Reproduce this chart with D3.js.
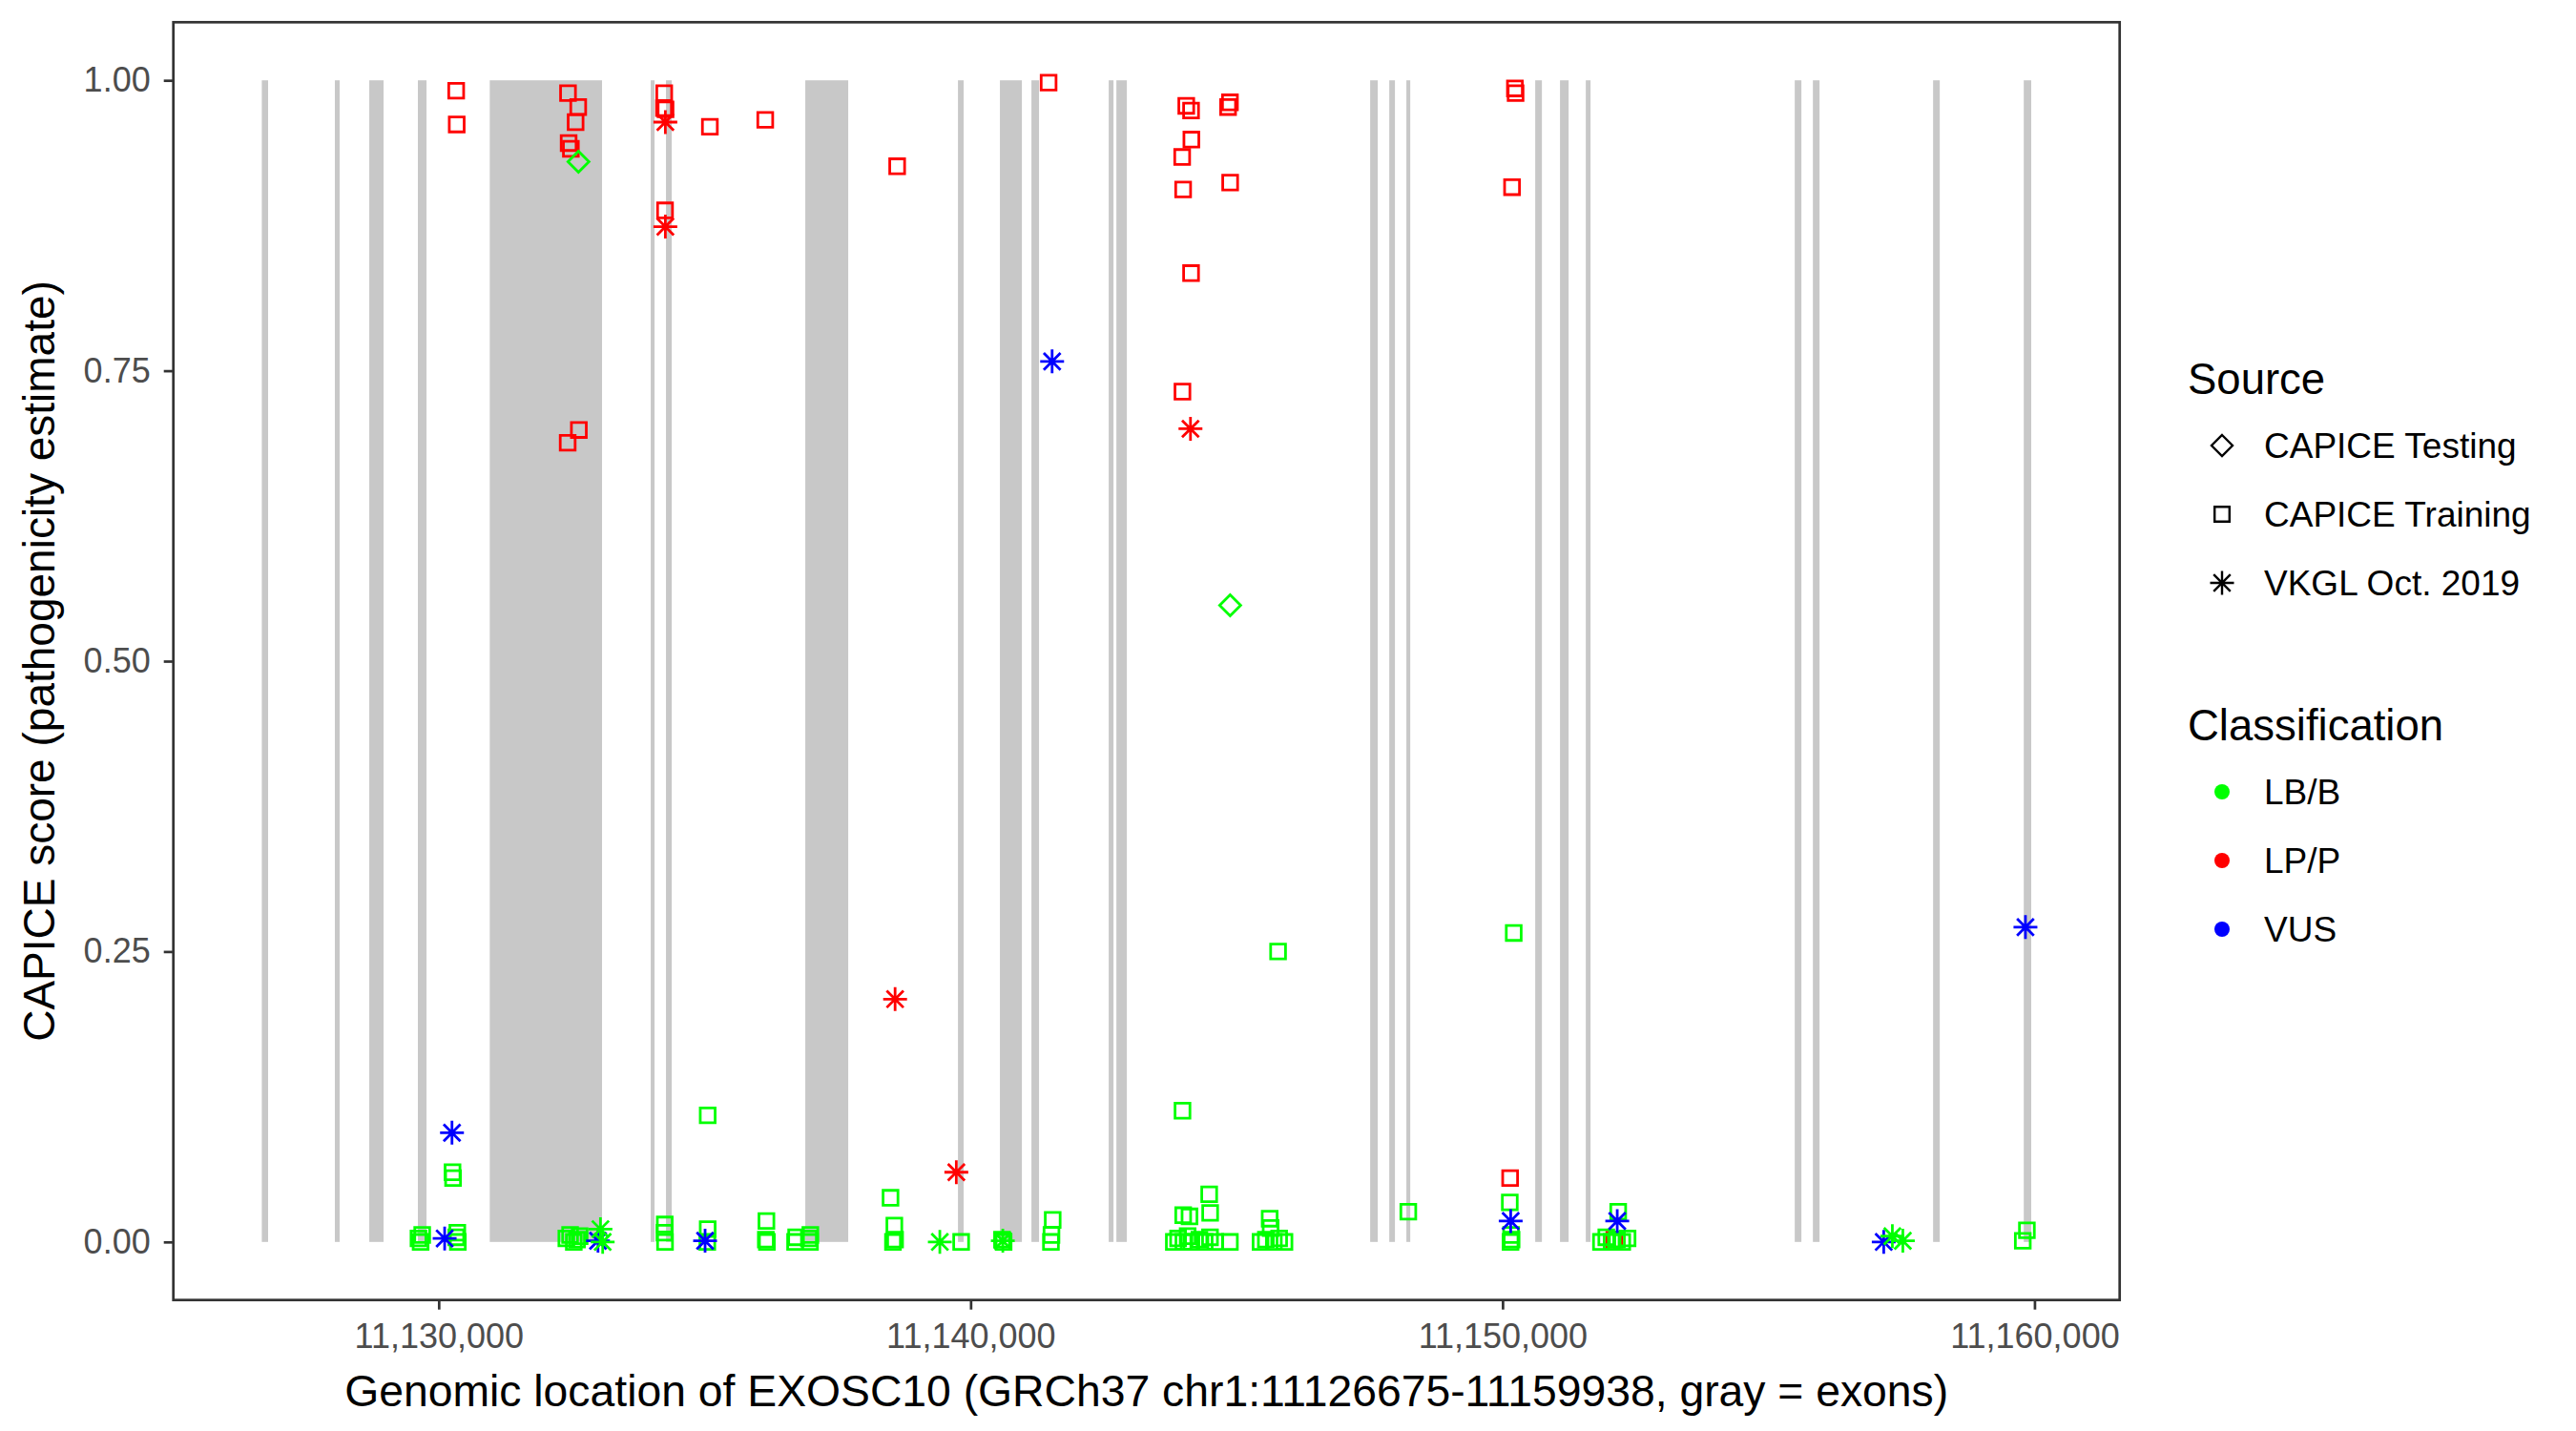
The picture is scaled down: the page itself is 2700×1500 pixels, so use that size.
<!DOCTYPE html>
<html>
<head>
<meta charset="utf-8">
<script src="https://cdn.jsdelivr.net/npm/d3@7"></script>
<style>
  body { margin: 0; background: #fff; }
  text { font-family: "Liberation Sans", Arial, sans-serif; }
</style>
</head>
<body>
<div id="chart"></div>
<script>
// gene + exons (GRCh37 chr1)
var geneStart = 11126675, geneEnd = 11159938;
var exonStart = [11126675, 11128048, 11128695, 11129609, 11130960, 11133986, 11134273, 11136892,
                 11139762, 11140551, 11141143, 11142596, 11142740, 11147511, 11147870, 11148192,
                 11150614, 11151080, 11151565, 11155493, 11155834, 11158094, 11159798];
var exonEnd   = [11126793, 11128138, 11128964, 11129771, 11133071, 11134058, 11134381, 11137699,
                 11139869, 11140964, 11141286, 11142686, 11142937, 11147654, 11147977, 11148265,
                 11150740, 11151242, 11151654, 11155618, 11155959, 11158219, 11159938];

// variants: position, score, source, classification
var redSqPos   = [11130329, 11130339, 11132431, 11132623, 11132574, 11132443, 11132485, 11132635, 11132425,
                  11134240, 11134235, 11134265, 11134255, 11135098, 11136139, 11138619, 11141466,
                  11144054, 11144144, 11144840, 11144875, 11144150, 11143977, 11143995, 11144879,
                  11144144, 11143982, 11150232, 11150245, 11150178, 11150142, 11152100];
var redSqScore = [0.991, 0.962, 0.989, 0.977, 0.964, 0.946, 0.941, 0.699, 0.688,
                  0.989, 0.976, 0.975, 0.888, 0.960, 0.966, 0.926, 0.998,
                  0.978, 0.974, 0.977, 0.981, 0.949, 0.934, 0.906, 0.912,
                  0.834, 0.732, 0.993, 0.989, 0.908, 0.055, 0.002];

var redStarPos   = [11134261, 11134261, 11144133, 11138580, 11139731];
var redStarScore = [0.964, 0.874, 0.700, 0.209, 0.060];

var greenSqPos = [11145780, 11150210, 11130260, 11130270, 11129620, 11129660, 11129690, 11130350, 11130360, 11130330,
                  11132400, 11132470, 11132540, 11132600, 11132650, 11134250, 11134245, 11134255,
                  11135057, 11135057, 11135050, 11136161, 11136150, 11136170,
                  11136700, 11136720, 11136987, 11136980, 11136960, 11138494, 11138566, 11138540, 11138580,
                  11139822, 11140590, 11140620, 11141543, 11141520, 11141510,
                  11143983, 11144485, 11144503, 11143996, 11144115,
                  11143820, 11143900, 11144000, 11144080, 11144150, 11144300, 11144400, 11144500, 11144600, 11144874,
                  11145622, 11145640, 11145450, 11145550, 11145700, 11145800, 11145900,
                  11148228, 11150136, 11150160, 11150150, 11150170,
                  11152174, 11151850, 11151950, 11152050, 11152150, 11152250, 11152350,
                  11159857, 11159780];
var greenSqScore = [0.250, 0.266, 0.060, 0.055, 0.003, 0.000, 0.006, 0.008, 0.000, 0.004,
                    0.003, 0.006, 0.000, 0.002, 0.005, 0.015, 0.008, 0.000,
                    0.109, 0.011, 0.000, 0.018, 0.002, 0.000,
                    0.000, 0.004, 0.006, 0.000, 0.003, 0.038, 0.014, 0.000, 0.002,
                    0.000, 0.002, 0.000, 0.019, 0.006, 0.000,
                    0.113, 0.041, 0.025, 0.023, 0.022,
                    0.000, 0.003, 0.000, 0.005, 0.000, 0.002, 0.000, 0.004, 0.000, 0.000,
                    0.020, 0.012, 0.000, 0.002, 0.000, 0.003, 0.000,
                    0.026, 0.034, 0.006, 0.000, 0.002,
                    0.026, 0.000, 0.004, 0.000, 0.002, 0.000, 0.003,
                    0.010, 0.001];

var greenDiaPos   = [11132628, 11144879];
var greenDiaScore = [0.930, 0.548];

var greenStarPos   = [11133041, 11133083, 11139421, 11140605, 11157328, 11157525];
var greenStarScore = [0.011, 0.000, 0.000, 0.001, 0.005, 0.001];

var blueStarPos   = [11141532, 11159830, 11130250, 11130112, 11132995, 11135008, 11150153, 11152156, 11157166];
var blueStarScore = [0.758, 0.271, 0.094, 0.003, 0.001, 0.001, 0.018, 0.018, 0.000];

var sourceLabels = ["CAPICE Testing", "CAPICE Training", "VKGL Oct. 2019"];
var classLabels = ["LB/B", "LP/P", "VUS"];
var classColors = ["#00ff00", "#ff0000", "#0000ff"];
var yTicks = [0, 0.25, 0.5, 0.75, 1];
var xTicks = [11130000, 11140000, 11150000, 11160000];

function build(pos, score, source, cls) {
  return pos.map((p, i) => ({pos: p, score: score[i], source: source, cls: cls}));
}
var variants = [].concat(
  build(redSqPos, redSqScore, "CAPICE Training", "LP/P"),
  build(redStarPos, redStarScore, "VKGL Oct. 2019", "LP/P"),
  build(greenSqPos, greenSqScore, "CAPICE Training", "LB/B"),
  build(greenDiaPos, greenDiaScore, "CAPICE Testing", "LB/B"),
  build(blueStarPos, blueStarScore, "VKGL Oct. 2019", "VUS"),
  build(greenStarPos, greenStarScore, "VKGL Oct. 2019", "LB/B")
);

var W = 2700, H = 1500;
var margin = {top: 23.3, left: 181.7, right: W - 2221.7, bottom: H - 1362.7};
var width = W - margin.left - margin.right,
    height = H - margin.top - margin.bottom;

var pad = (geneEnd - geneStart) * 0.05;
var x = d3.scaleLinear().domain([geneStart - pad, geneEnd + pad]).range([0, width]);
var y = d3.scaleLinear().domain([-0.05, 1.05]).range([height, 0]);
var color = d3.scaleOrdinal().domain(classLabels).range(classColors);

var svg = d3.select("#chart").append("svg")
    .attr("width", W).attr("height", H);
var g = svg.append("g")
    .attr("transform", "translate(" + margin.left + "," + margin.top + ")");

// exons
g.selectAll("rect.exon")
  .data(exonStart.map((s, i) => ({s: s, e: exonEnd[i]})))
  .enter().append("rect")
    .attr("class", "exon")
    .attr("x", d => x(d.s))
    .attr("width", d => Math.max(x(d.e) - x(d.s), 1))
    .attr("y", y(1))
    .attr("height", y(0) - y(1))
    .attr("fill", "#c8c8c8");

// point shapes
function shapePath(source) {
  if (source == "CAPICE Training") {
    var s = 7.8;
    return "M" + (-s) + "," + (-s) + "H" + s + "V" + s + "H" + (-s) + "Z";
  }
  if (source == "CAPICE Testing") {
    var r = 11;
    return "M0," + (-r) + "L" + r + ",0L0," + r + "L" + (-r) + ",0Z";
  }
  var a = 12.5, d = 8.8;
  return "M0," + (-a) + "V" + a + "M" + (-a) + ",0H" + a +
         "M" + (-d) + "," + (-d) + "L" + d + "," + d + "M" + (-d) + "," + d + "L" + d + "," + (-d);
}

g.selectAll("path.pt")
  .data(variants)
  .enter().append("path")
    .attr("class", "pt")
    .attr("transform", d => "translate(" + x(d.pos) + "," + y(d.score) + ")")
    .attr("d", d => shapePath(d.source))
    .attr("fill", "none")
    .attr("stroke", d => color(d.cls))
    .attr("stroke-width", 2.8);

// axes
var xAxis = g.append("g")
  .attr("transform", "translate(0," + height + ")")
  .call(d3.axisBottom(x).tickValues(xTicks).tickSize(10).tickPadding(15).tickFormat(d3.format(",")));
var yAxis = g.append("g")
  .call(d3.axisLeft(y).tickValues(yTicks).tickSize(10).tickPadding(14).tickFormat(d3.format(".2f")));
[xAxis, yAxis].forEach(ax => {
  ax.select(".domain").remove();
  ax.selectAll(".tick line").attr("stroke", "#333333").attr("stroke-width", 2.7);
  ax.selectAll(".tick text").attr("fill", "#4d4d4d").style("font-size", "36px")
    .style("font-family", '"Liberation Sans", Arial, sans-serif');
});

// panel border
g.append("rect")
  .attr("width", width).attr("height", height)
  .attr("fill", "none").attr("stroke", "#333333").attr("stroke-width", 2.7);

// axis titles
svg.append("text")
  .attr("x", margin.left + width / 2).attr("y", 1474)
  .attr("text-anchor", "middle").style("font-size", "46.3px").attr("fill", "#000")
  .text("Genomic location of EXOSC10 (GRCh37 chr1:11126675-11159938, gray = exons)");
svg.append("text")
  .attr("transform", "translate(57," + (margin.top + height / 2) + ") rotate(-90)")
  .attr("text-anchor", "middle").style("font-size", "46px").attr("fill", "#000")
  .text("CAPICE score (pathogenicity estimate)");

// legends
var lx = 2293, keyX = 2329, labX = 2373, rowH = 72;
svg.append("text").attr("x", lx).attr("y", 397).attr("dominant-baseline", "central")
  .style("font-size", "45.5px").text("Source");
var srcLeg = svg.selectAll("g.src").data(sourceLabels).enter().append("g")
  .attr("transform", (d, i) => "translate(0," + (467 + i * rowH) + ")");
srcLeg.append("path")
  .attr("transform", "translate(" + keyX + ",0)")
  .attr("d", d => shapePath(d))
  .attr("fill", "none").attr("stroke", "#000").attr("stroke-width", 2.4);
srcLeg.append("text").attr("x", labX).attr("dominant-baseline", "central")
  .style("font-size", "37px").text(d => d);

svg.append("text").attr("x", lx).attr("y", 760).attr("dominant-baseline", "central")
  .style("font-size", "45.5px").text("Classification");
var clsLeg = svg.selectAll("g.cls").data(classLabels).enter().append("g")
  .attr("transform", (d, i) => "translate(0," + (830 + i * rowH) + ")");
clsLeg.append("circle").attr("cx", keyX).attr("r", 8).attr("fill", d => color(d));
clsLeg.append("text").attr("x", labX).attr("dominant-baseline", "central")
  .style("font-size", "37px").text(d => d);
</script>
</body>
</html>
